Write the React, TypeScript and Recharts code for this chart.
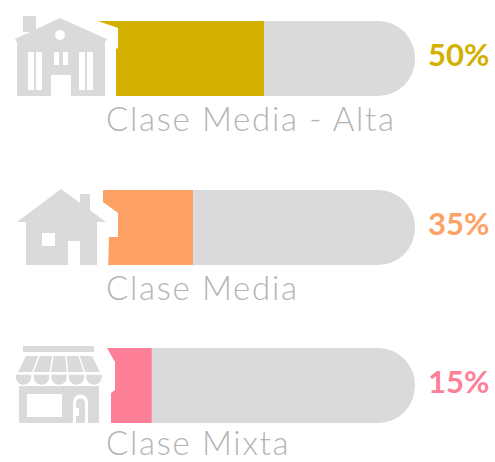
import React from "react";
import { BarChart, Bar, XAxis, YAxis, LabelList } from "recharts";

const categories = ["Clase Media - Alta", "Clase Media", "Clase Mixta"];
const percentLabels = ["50%", "35%", "15%"];
// Filled length as drawn, in percent of the grey track (the source's bars are not proportional to their labels)
const drawnFill = [52.4, 30, 17];
const colors = ["#d4b000", "#fda264", "#fd7f98"];

const GREY = "#dadada";
const W = 495;

const rowTops = [21, 190, 348];
const textBaselines = [131, 300, 455];
const masks = [
  "90,15 98,21 118,28 118,48 116,49 116,100 90,100",
  "90,185 103,185 103,202 118,213 118,237 109,237 108,270 90,270",
  "95,340 107,348 115,362 115,390 111,393 111,427 95,427",
];
const scallopCenters = [23.5, 41.5, 59, 76.5, 94];

function Row({ i }: { i: number }) {
  const data = [
    { name: categories[i], filled: drawnFill[i], rest: 100 - drawnFill[i], label: percentLabels[i] },
  ];
  return (
    <div style={{ position: "absolute", left: 0, top: rowTops[i] }}>
      <BarChart
        width={W}
        height={75}
        data={data}
        layout="vertical"
        barCategoryGap={0}
        margin={{ left: 98, right: 80, top: 0, bottom: 0 }}
      >
        <XAxis type="number" domain={[0, 100]} hide />
        <YAxis type="category" dataKey="name" hide />
        <Bar dataKey="filled" stackId="a" fill={colors[i]} isAnimationActive={false} />
        <Bar dataKey="rest" stackId="a" fill={GREY} radius={[0, 37, 37, 0]} isAnimationActive={false}>
          <LabelList
            dataKey="label"
            content={(p: any) => (
              <text
                x={Number(p.x) + Number(p.width) + 13}
                y={Number(p.y) + Number(p.height) / 2 - 5}
                dominantBaseline="central"
                fill={colors[i]}
                style={{ fontFamily: "Lato, sans-serif", fontSize: 31, fontWeight: 700 }}
              >
                {p.value}
              </text>
            )}
          />
        </Bar>
      </BarChart>
    </div>
  );
}

function Overlay() {
  return (
    <svg width={W} height={462} style={{ position: "absolute", left: 0, top: 0, pointerEvents: "none" }}>
      {masks.map((m) => (
        <polygon key={m} points={m} fill="#fff" />
      ))}

      {/* mansion */}
      <g fill={GREY}>
        <rect x={23} y={16} width={13} height={16} />
        <polygon points="15,39 60,18 107,39 105,42 17,42" />
        <rect x={17} y={40} width={88} height={56} />
      </g>
      <g fill="#fff">
        <circle cx={60} cy={35} r={5} />
        <rect x={28} y={52} width={14} height={38} />
        <rect x={79} y={52} width={14} height={38} />
        <rect x={54} y={52} width={5} height={13} />
        <rect x={63} y={52} width={5} height={13} />
        <rect x={51} y={75} width={20} height={21} />
      </g>
      <rect x={34} y={52} width={2} height={38} fill={GREY} />
      <rect x={85} y={52} width={2} height={38} fill={GREY} />

      {/* house */}
      <g fill={GREY}>
        <rect x={80} y={194} width={10} height={26} />
        <polygon points="17,222 61,189 106,222" />
        <rect x={26} y={221} width={71} height={44} />
      </g>
      <g fill="#fff">
        <rect x={42} y={233} width={13} height={13} />
        <rect x={68} y={241} width={12} height={24} />
      </g>

      {/* shop */}
      <g fill={GREY}>
        <rect x={23} y={346} width={71} height={6} />
        <polygon points="26,356 92,356 100,372 18,372" />
        <rect x={19} y={386} width={80} height={37} />
      </g>
      {scallopCenters.map((cx) => (
        <path
          key={cx}
          d={`M${cx - 8.5},374 h17 v3 a8.5,8.5 0 0 1 -17,0 Z`}
          fill={GREY}
          stroke="#fff"
          strokeWidth={1.5}
        />
      ))}
      <g stroke="#fff" strokeWidth={1.5}>
        <line x1={39} y1={356} x2={32} y2={374} />
        <line x1={53} y1={356} x2={50} y2={374} />
        <line x1={66} y1={356} x2={67.5} y2={374} />
        <line x1={79} y1={356} x2={85} y2={374} />
      </g>
      <g fill="#fff">
        <rect x={27} y={394} width={35} height={23} />
        <path d="M73,423 V402 a7.5,7.5 0 0 1 15,0 V423 Z" />
      </g>
      <path d="M76,423 V403 a4.5,4.5 0 0 1 9,0 V423 Z" fill={GREY} />
      <rect x={76} y={408} width={3} height={8} fill="#fff" />

      {categories.map((c, i) => (
        <text
          key={c}
          x={106}
          y={textBaselines[i]}
          fill="#b4b4b4"
          style={{ fontFamily: "Lato, sans-serif", fontSize: 33, fontWeight: 300, letterSpacing: 1.7 }}
        >
          {c}
        </text>
      ))}
    </svg>
  );
}

export default function App() {
  return (
    <div style={{ position: "absolute", left: 0, top: 0, width: W, height: 462, background: "#fff" }}>
      {categories.map((c, i) => (
        <Row key={c} i={i} />
      ))}
      <Overlay />
    </div>
  );
}
